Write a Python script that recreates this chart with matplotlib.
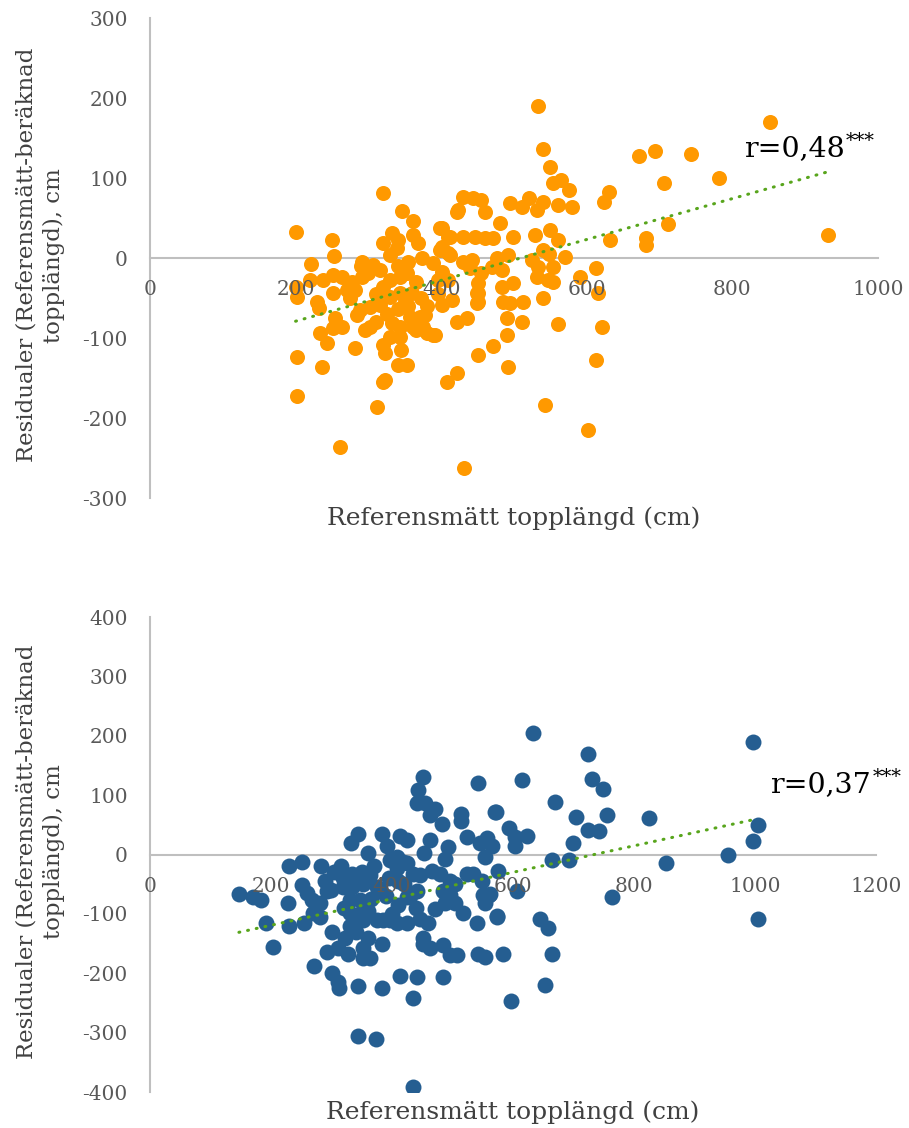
import numpy as np
import matplotlib
matplotlib.use("Agg")
import matplotlib.pyplot as plt

plt.rcParams["font.family"] = ["DejaVu Serif"]
plt.rcParams["axes.unicode_minus"] = False

# top chart: residuals (orange)
top_x = [533, 540, 550, 553, 564, 575, 852, 672, 693, 743, 782, 706, 630, 623, 712, 632, 682, 682,
         932, 591, 616, 561, 621, 612, 542, 602, 540, 432, 261, 312, 320, 341, 353, 282, 236, 202,
         202, 320, 346, 361, 200, 250, 253, 221, 422, 408, 451, 471, 492, 491, 491, 511, 422, 436,
         323, 430, 444, 454, 423, 460, 495, 511, 520, 532, 540, 561, 580, 481, 399, 412, 430, 447,
         460, 471, 499, 529, 550, 561, 540, 548, 399, 410, 492, 570, 443, 440, 454, 477, 470, 484,
         525, 533, 553, 532, 547, 396, 410, 451, 451, 451, 484, 499, 401, 415, 485, 495, 513, 378,
         389, 320, 333, 341, 361, 368, 330, 339, 291, 306, 374, 389, 401, 401, 410, 422, 401, 412,
         430, 220, 238, 252, 264, 202, 200, 252, 229, 232, 278, 291, 282, 275, 300, 316, 320, 330,
         344, 353, 330, 344, 360, 289, 302, 316, 285, 254, 264, 252, 234, 243, 302, 296, 333, 344,
         357, 371, 375, 392, 381, 330, 344, 361, 320, 323, 449, 449, 341, 355, 365, 372, 553, 612,
         310, 325, 350, 365, 380, 395, 340, 355, 290, 270, 310, 345]
top_y = [190, 136, 114, 94, 97, 85, 170, 128, 134, 130, 100, 94, 83, 70, 42, 22, 25, 16,
         29, -24, -44, -83, -86, -128, -184, -215, -50, -262, -236, -186, -155, -134, -134, -112, -136, -124,
         -172, 81, 59, 46, 32, 23, 2, -7, -144, -155, -121, -110, -136, -96, -75, -80, -80, -75,
         -153, 76, 75, 72, 60, 58, 69, 64, 75, 60, 70, 66, 64, 44, 37, 26, 26, 26,
         25, 25, 26, 29, 35, 22, 10, 5, 10, 6, 4, 1, -2, -12, -19, 0, -11, -15,
         -2, -11, -11, -24, -28, -28, -28, -31, -44, -55, -36, -31, -59, -53, -55, -56, -55, -71,
         -96, 19, 31, 22, 29, 19, 4, 12, -5, -9, 0, -6, -17, 37, 26, 58, 14, 4,
         -5, -28, -28, -21, -24, -49, -36, -44, -55, -63, -30, -24, -40, -50, -19, -15, -36, -28,
         -24, -19, -49, -44, -44, -65, -61, -59, -71, -75, -86, -88, -94, -106, -86, -90, -81, -86,
         -74, -74, -86, -96, -94, -99, -99, -86, -109, -119, -44, -56, -64, -60, -30, -50, -30, -12,
         -45, -70, -55, -90, -60, -45, -10, -5, -10, -40, -80, -115]
top_trend = (0.2555, -130.1)
top_r = "0,48"

# bottom chart: residuals (blue)
bot_x = [633, 451, 443, 441, 455, 471, 463, 483, 542, 615, 572, 514, 514, 524, 593, 603, 623, 603,
         545, 557, 565, 554, 344, 332, 383, 413, 425, 463, 453, 392, 360, 492, 488, 408, 418, 251,
         230, 283, 304, 289, 292, 251, 260, 228, 147, 170, 183, 192, 203, 230, 255, 268, 281, 269,
         281, 319, 334, 350, 364, 319, 334, 352, 375, 331, 347, 352, 331, 342, 352, 397, 408, 425,
         434, 425, 441, 446, 466, 479, 496, 471, 488, 504, 517, 484, 496, 504, 524, 534, 549, 550,
         562, 554, 575, 607, 574, 540, 375, 385, 397, 408, 425, 446, 459, 451, 451, 463, 484, 496,
         507, 542, 554, 583, 301, 322, 292, 310, 327, 352, 364, 352, 383, 271, 301, 311, 312, 344,
         383, 413, 441, 435, 484, 597, 344, 373, 435, 653, 997, 724, 730, 749, 669, 570, 704, 755,
         825, 724, 742, 699, 1005, 997, 955, 853, 664, 693, 764, 1005, 645, 658, 573, 664, 560, 395,
         410, 380, 365, 360, 410, 440, 400, 330, 340, 360, 320, 300, 315, 370, 390, 420, 430]
bot_y = [204, 130, 108, 86, 86, 77, 66, 52, 120, 126, 72, 69, 57, 30, 44, 29, 32, 15,
         20, 27, 15, -5, 34, 19, 34, 32, 24, 24, 3, 15, 2, 12, -7, -5, -12, -12,
         -20, -19, -30, -44, -61, -52, -64, -81, -67, -72, -76, -116, -155, -120, -116, -77, -82, -99,
         -106, -39, -32, -30, -35, -55, -55, -49, -55, -77, -77, -94, -99, -111, -111, -10, -22, -15,
         -32, -72, -61, -35, -27, -32, -44, -91, -82, -82, -99, -61, -69, -49, -32, -32, -44, -69,
         -66, -82, -27, -61, -106, -116, -111, -111, -111, -116, -116, -108, -116, -140, -150, -157, -153, -170,
         -170, -167, -173, -168, -131, -140, -165, -158, -167, -157, -175, -175, -150, -187, -200, -215, -225, -222,
         -224, -204, -207, -241, -207, -247, -306, -311, -391, -220, 189, 170, 127, 111, 89, 72, 64, 67,
         61, 42, 40, 20, 49, 22, 0, -15, -10, -10, -71, -108, -108, -123, -104, -167, -69, -40,
         -45, -60, -75, -95, -85, -90, -100, -120, -130, -140, -90, -60, -20, -20, -70, -50, -70]
bot_trend = (0.2231, -163.8)
bot_r = "0,37"

xlabel = "Referensmätt topplängd (cm)"
ylabel = "Residualer (Referensmätt-beräknad\ntopplängd), cm"

grey_line = "#bfbfbf"
tick_grey = "#595959"
label_grey = "#404040"
trend_green = "#58a51c"


def draw(ax, xs, ys, color, size, trend, r_text, r_pos, xmax, ystep, ylim):
    ax.scatter(xs, ys, s=size, color=color, linewidths=0, zorder=1)
    slope, icpt = trend
    tx = np.array([min(xs), max(xs)])
    ax.plot(tx, slope * tx + icpt, color=trend_green, linewidth=2.2,
            linestyle=(0, (0.3, 2.6)), dash_capstyle="round", zorder=2)

    ax.set_xlim(0, xmax)
    ax.set_ylim(-ylim, ylim)
    ax.set_xticks(np.arange(0, xmax + 1, 200))
    ax.set_yticks(np.arange(-ylim, ylim + 1, ystep))
    for s in ("top", "right"):
        ax.spines[s].set_visible(False)
    ax.spines["bottom"].set_position(("data", 0))
    for s in ("bottom", "left"):
        ax.spines[s].set_color(grey_line)
        ax.spines[s].set_linewidth(1.5)
        ax.spines[s].set_zorder(0.5)
    ax.tick_params(axis="x", length=0, pad=16, labelsize=14.5, labelcolor=tick_grey)
    ax.tick_params(axis="y", length=0, pad=16, labelsize=14.5, labelcolor=tick_grey)

    ax.text(0.5, -0.043, xlabel, transform=ax.transAxes, ha="center", va="center",
            fontsize=18, color=label_grey)
    ax.text(-0.151, 0.506, ylabel, transform=ax.transAxes, ha="center", va="center",
            rotation=90, multialignment="center", fontsize=16.5, color=label_grey,
            linespacing=1.3)
    t = ax.text(r_pos[0], r_pos[1], "r=" + r_text, ha="left", va="center",
                fontsize=20.5, color="black")
    # superscript stars hung off the end of the r text
    ax.annotate("***", xy=(1.0, 1.0), xycoords=t, xytext=(1, 2), textcoords="offset points",
                ha="left", va="top", fontsize=14, color="black")


fig = plt.figure(figsize=(9.09, 11.28), dpi=100)
ax1 = fig.add_axes([0.165, 0.5585, 0.8009, 0.4255])
ax2 = fig.add_axes([0.165, 0.0319, 0.7987, 0.4211])

draw(ax1, top_x, top_y, "#ff9900", 117, top_trend, top_r, (816, 137), 1000, 100, 300)
draw(ax2, bot_x, bot_y, "#255e91", 132, bot_trend, bot_r, (1025, 118), 1200, 100, 400)

fig.savefig("out.png", dpi=100)
